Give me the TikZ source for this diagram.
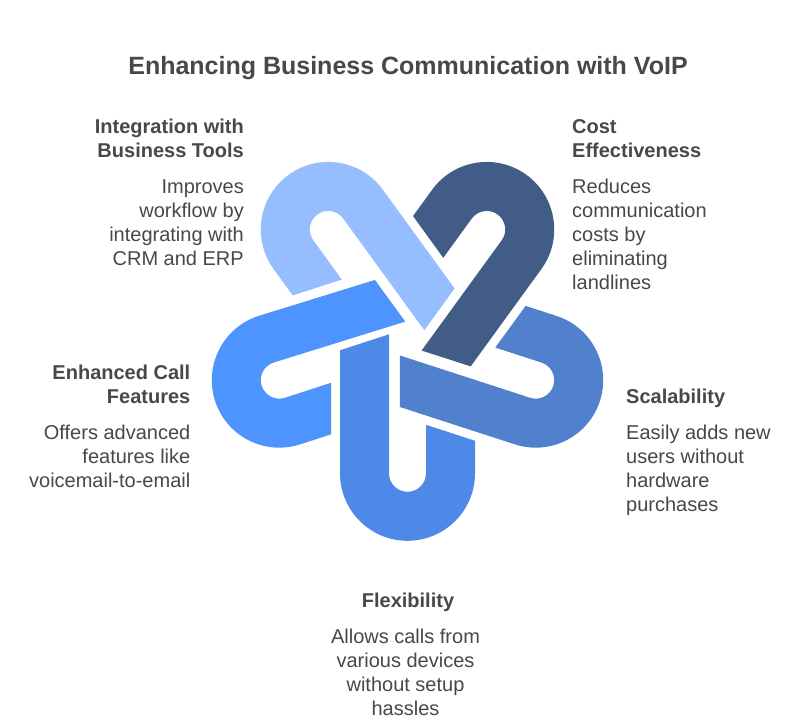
\documentclass[tikz,border=0pt]{standalone}
\usepackage{fontspec}
\setmainfont{Liberation Sans}
\definecolor{txt}{HTML}{484848}
\definecolor{cA}{HTML}{96BDFF}
\definecolor{cB}{HTML}{4D94FF}
\definecolor{cC}{HTML}{4E89E8}
\definecolor{cD}{HTML}{5181CC}
\definecolor{cE}{HTML}{415C87}
\newcommand{\ribbon}[4]{%
  \fill[#2,shift={(407.5,-338.5)},rotate=#1]
    (-67.5+#4,-11.8-#3) -- (-67.5,-134.8) arc[start angle=180,end angle=360,radius=67.5]
    -- (67.5,-102.3) -- (18.5,-86.3) -- (18.5,-134.8)
    arc[start angle=0,end angle=-180,radius=18.5]
    -- (-18.5+#4,4.2-#3) -- cycle;}
\tikzset{
  headtxt/.style={inner sep=0pt,text=txt,font=\fontsize{20}{24}\selectfont\bfseries},
  bodytxt/.style={inner sep=0pt,text=txt,font=\fontsize{20}{24}\selectfont},
  titletxt/.style={inner sep=0pt,text=txt,font=\fontsize{25}{28}\selectfont\bfseries}
}
\newcommand{\fs}{\rule{0pt}{18pt}}
\begin{document}
\begin{tikzpicture}[x=1pt,y=1pt]
\useasboundingbox (0,0) rectangle (804,-722);
\fill[white] (0,0) rectangle (804,-722);
\ribbon{216}{cA}{1}{0}
\ribbon{144}{cE}{2.8}{0}
\ribbon{72}{cD}{2.2}{0}
\ribbon{0}{cC}{0}{0}
\ribbon{288}{cB}{1.1}{1.75}
\node[titletxt,anchor=base] (title) at (408,-74.5) {Enhancing Business Communication with VoIP};
\node[headtxt,anchor=north east,align=right] (h1) at (244,-115) {\fs Integration with\\Business Tools};
\node[bodytxt,anchor=north east,align=right] (b1) at (244,-175) {\fs Improves\\workflow by\\integrating with\\CRM and ERP};
\node[headtxt,anchor=north west,align=left] (h2) at (572,-115) {\fs Cost\\Effectiveness};
\node[bodytxt,anchor=north west,align=left] (b2) at (572,-175) {\fs Reduces\\communication\\costs by\\eliminating\\landlines};
\node[headtxt,anchor=north east,align=right] (h3) at (190.5,-361) {\fs Enhanced Call\\Features};
\node[bodytxt,anchor=north east,align=right] (b3) at (190.5,-421) {\fs Offers advanced\\features like\\voicemail-to-email};
\node[headtxt,anchor=north west,align=left] (h4) at (626,-385) {\fs Scalability};
\node[bodytxt,anchor=north west,align=left] (b4) at (626,-421) {\fs Easily adds new\\users without\\hardware\\purchases};
\node[headtxt,anchor=north,align=center] (h5) at (408,-589) {\fs Flexibility};
\node[bodytxt,anchor=north,align=center] (b5) at (405.5,-625) {\fs Allows calls from\\various devices\\without setup\\hassles};
\end{tikzpicture}
\end{document}
